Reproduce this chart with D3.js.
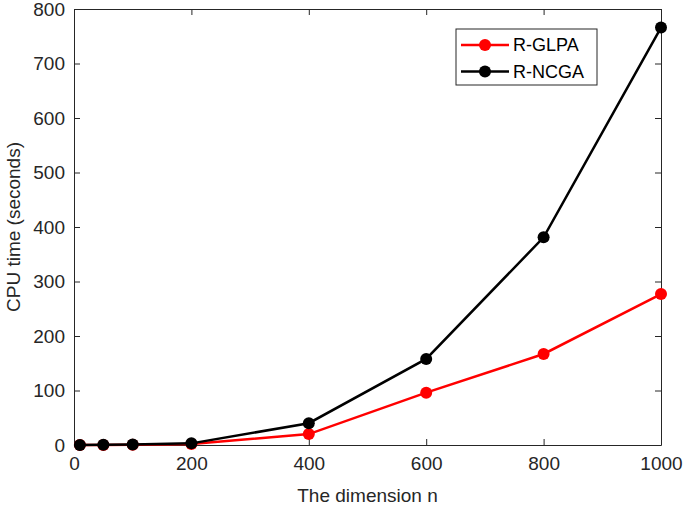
<!DOCTYPE html>
<html>
<head>
<meta charset="utf-8">
<script src="https://d3js.org/d3.v7.min.js"></script>
<style>
  body { margin: 0; background: #fff; }
  svg { display: block; font-family: "Liberation Sans", Arial, sans-serif; }
</style>
</head>
<body>
<script>
// data
const dims = [10, 50, 100, 200, 400, 600, 800, 1000];
const glpa = [0.1, 0.2, 0.5, 2, 20, 96, 167, 277];
const ncga = [0.2, 0.3, 0.8, 3, 40, 158, 381, 766];
const xTicks = [0, 200, 400, 600, 800, 1000];
const yTicks = [0, 100, 200, 300, 400, 500, 600, 700, 800];

const series = [
  { name: "R-GLPA", values: glpa, color: "#ff0000" },
  { name: "R-NCGA", values: ncga, color: "#000000" }
];

const width = 685;
const height = 511;
const margin = { top: 9, right: 24, bottom: 66, left: 74 };
const axisColor = "#262626";

const svg = d3.select("body")
  .append("svg")
  .attr("width", width)
  .attr("height", height);

const xScale = d3.scaleLinear()
  .domain([0, 1000])
  .range([margin.left, width - margin.right]);

const yScale = d3.scaleLinear()
  .domain([0, 800])
  .range([height - margin.bottom, margin.top]);

const x0 = xScale.range()[0], x1 = xScale.range()[1];
const y0 = yScale.range()[0], y1 = yScale.range()[1];

// box axes, ticks pointing inside
svg.append("g")
  .attr("transform", `translate(0,${y0})`)
  .call(d3.axisBottom(xScale).tickValues(xTicks).tickFormat(d3.format("d"))
    .tickSize(-6).tickPadding(12).tickSizeOuter(0))
  .call(g => g.selectAll("text").style("font-size", "19px").attr("fill", axisColor));

svg.append("g")
  .attr("transform", `translate(0,${y1})`)
  .call(d3.axisTop(xScale).tickValues(xTicks).tickSize(-6).tickFormat("").tickSizeOuter(0));

svg.append("g")
  .attr("transform", `translate(${x0},0)`)
  .call(d3.axisLeft(yScale).tickValues(yTicks).tickSize(-6).tickPadding(9).tickSizeOuter(0))
  .call(g => g.selectAll("text").style("font-size", "19px").attr("fill", axisColor));

svg.append("g")
  .attr("transform", `translate(${x1},0)`)
  .call(d3.axisRight(yScale).tickValues(yTicks).tickSize(-6).tickFormat("").tickSizeOuter(0));

svg.selectAll(".domain, .tick line")
  .attr("stroke", axisColor)
  .attr("stroke-width", 1);

// lines and markers
const line = d3.line()
  .x((d, i) => xScale(dims[i]))
  .y(d => yScale(d));

series.forEach(s => {
  svg.append("path")
    .datum(s.values)
    .attr("fill", "none")
    .attr("stroke", s.color)
    .attr("stroke-width", 2.5)
    .attr("d", line);

  svg.selectAll(null)
    .data(s.values)
    .enter()
    .append("circle")
    .attr("cx", (d, i) => xScale(dims[i]))
    .attr("cy", d => yScale(d))
    .attr("r", 6)
    .attr("fill", s.color);
});

// axis titles
svg.append("text")
  .attr("x", (x0 + x1) / 2)
  .attr("y", 502)
  .attr("text-anchor", "middle")
  .style("font-size", "19px")
  .attr("fill", axisColor)
  .text("The dimension n");

svg.append("text")
  .attr("transform", "rotate(-90)")
  .attr("x", -(y0 + y1) / 2)
  .attr("y", 20)
  .attr("text-anchor", "middle")
  .style("font-size", "19px")
  .attr("fill", axisColor)
  .text("CPU time (seconds)");

// legend
const legend = svg.append("g").attr("transform", "translate(456,29)");
legend.append("rect")
  .attr("width", 141)
  .attr("height", 56)
  .attr("fill", "#fff")
  .attr("stroke", axisColor)
  .attr("stroke-width", 1);

series.forEach((s, i) => {
  const ly = 16 + i * 26.5;
  legend.append("line")
    .attr("x1", 5).attr("x2", 53)
    .attr("y1", ly).attr("y2", ly)
    .attr("stroke", s.color)
    .attr("stroke-width", 2.5);
  legend.append("circle")
    .attr("cx", 29).attr("cy", ly).attr("r", 6)
    .attr("fill", s.color);
  legend.append("text")
    .attr("x", 57).attr("y", ly)
    .attr("dy", "0.35em")
    .style("font-size", "18px")
    .attr("fill", "#000")
    .text(s.name);
});
</script>
</body>
</html>
